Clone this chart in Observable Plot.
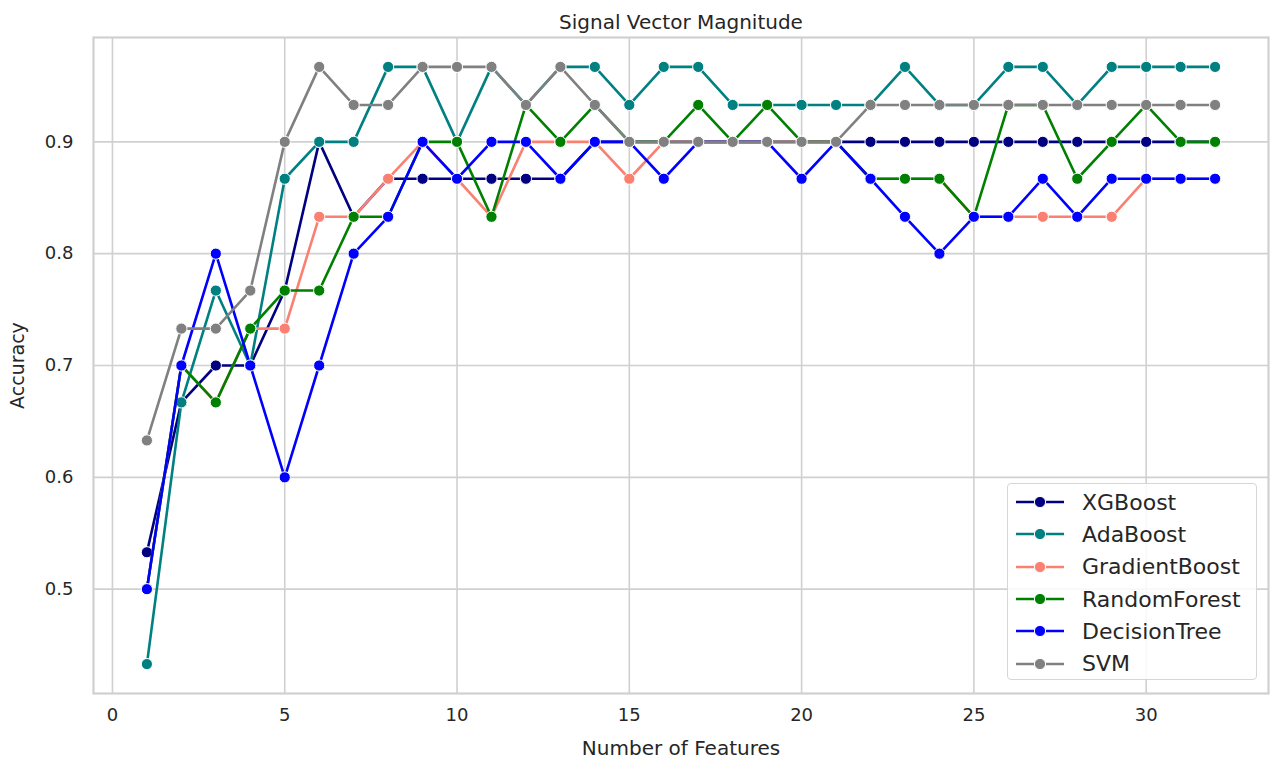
<!DOCTYPE html>
<html>
<head>
<meta charset="utf-8">
<script src="https://cdn.jsdelivr.net/npm/d3@7"></script>
<script src="https://cdn.jsdelivr.net/npm/@observablehq/plot@0.6"></script>
<style>
  html, body { margin: 0; padding: 0; background: #fff; }
  body { font-family: "DejaVu Sans", sans-serif; }
  #wrap { position: relative; width: 1271px; height: 763px; }
  #legend {
    position: absolute; left: 1007px; top: 483px; width: 250px; height: 197px;
    border: 1.5px solid #d6d6d6; border-radius: 4px; background: rgba(255,255,255,0.85);
    box-sizing: border-box; padding-top: 2px;
  }
  .row { display: flex; align-items: center; height: 32.3px; }
  .row svg { margin-left: 7px; margin-right: 17px; }
  .row span { font-size: 22px; color: #262626; }
</style>
</head>
<body>
<div id="wrap"></div>
<script>
const features = [1,2,3,4,5,6,7,8,9,10,11,12,13,14,15,16,17,18,19,20,21,22,23,24,25,26,27,28,29,30,31,32];
const models = ["XGBoost","AdaBoost","GradientBoost","RandomForest","DecisionTree","SVM"];
const colors = ["#000080","#008080","#fa8072","#008000","#0000ff","#808080"];

const xgboost       = [0.533,0.667,0.700,0.700,0.767,0.900,0.833,0.867,0.867,0.867,0.867,0.867,0.867,0.900,0.900,0.900,0.900,0.900,0.900,0.900,0.900,0.900,0.900,0.900,0.900,0.900,0.900,0.900,0.900,0.900,0.900,0.900];
const adaboost      = [0.433,0.667,0.767,0.700,0.867,0.900,0.900,0.967,0.967,0.900,0.967,0.933,0.967,0.967,0.933,0.967,0.967,0.933,0.933,0.933,0.933,0.933,0.967,0.933,0.933,0.967,0.967,0.933,0.967,0.967,0.967,0.967];
const gradientboost = [0.500,0.700,0.667,0.733,0.733,0.833,0.833,0.867,0.900,0.867,0.833,0.900,0.900,0.900,0.867,0.900,0.900,0.900,0.900,0.900,0.900,0.867,0.867,0.867,0.833,0.833,0.833,0.833,0.833,0.867,0.867,0.867];
const randomforest  = [0.500,0.700,0.667,0.733,0.767,0.767,0.833,0.833,0.900,0.900,0.833,0.933,0.900,0.933,0.900,0.900,0.933,0.900,0.933,0.900,0.900,0.867,0.867,0.867,0.833,0.933,0.933,0.867,0.900,0.933,0.900,0.900];
const decisiontree  = [0.500,0.700,0.800,0.700,0.600,0.700,0.800,0.833,0.900,0.867,0.900,0.900,0.867,0.900,0.900,0.867,0.900,0.900,0.900,0.867,0.900,0.867,0.833,0.800,0.833,0.833,0.867,0.833,0.867,0.867,0.867,0.867];
const svm           = [0.633,0.733,0.733,0.767,0.900,0.967,0.933,0.933,0.967,0.967,0.967,0.933,0.967,0.933,0.900,0.900,0.900,0.900,0.900,0.900,0.900,0.933,0.933,0.933,0.933,0.933,0.933,0.933,0.933,0.933,0.933,0.933];

const xTicks = [0,5,10,15,20,25,30];
const yTicks = [0.5,0.6,0.7,0.8,0.9];
const title = "Signal Vector Magnitude";
const xLabel = "Number of Features";
const yLabel = "Accuracy";

const seriesValues = [xgboost, adaboost, gradientboost, randomforest, decisiontree, svm];
const series = models.map((m, i) => features.map((f, j) => ({model: m, features: f, accuracy: seriesValues[i][j]})));

const ink = "#262626";
const marks = [
  Plot.gridX(xTicks, {stroke: "#d0d0d0", strokeOpacity: 1, strokeWidth: 1.6}),
  Plot.gridY(yTicks, {stroke: "#d0d0d0", strokeOpacity: 1, strokeWidth: 1.6}),
  Plot.frame({stroke: "#d0d0d0", strokeWidth: 2.2}),
  Plot.axisX(xTicks, {tickSize: 0, tickPadding: 15, fontSize: 18, fill: ink, label: null}),
  Plot.axisY(yTicks, {tickSize: 0, tickPadding: 20, fontSize: 18, fill: ink, label: null, tickFormat: d3.format(".1f")})
];
series.forEach((s, i) => {
  marks.push(Plot.line(s, {x: "features", y: "accuracy", stroke: colors[i], strokeWidth: 2.6}));
  marks.push(Plot.dot(s, {x: "features", y: "accuracy", fill: colors[i], stroke: "white", strokeWidth: 1, r: 5.6}));
});
marks.push(Plot.text([title], {frameAnchor: "top", textAnchor: "middle", dy: -23, fontSize: 20, fill: ink}));
marks.push(Plot.text([xLabel], {frameAnchor: "bottom", textAnchor: "middle", dy: 61, fontSize: 20, fill: ink}));
marks.push(Plot.text([yLabel], {frameAnchor: "left", textAnchor: "middle", dx: -76, rotate: -90, fontSize: 19, fill: ink}));

const chart = Plot.plot({
  width: 1271,
  height: 763,
  marginLeft: 93,
  marginRight: 3,
  marginTop: 37,
  marginBottom: 70,
  style: {fontFamily: "DejaVu Sans", background: "white", overflow: "visible"},
  x: {domain: [-0.55, 33.55], axis: null},
  y: {domain: [0.4067, 0.9933], axis: null},
  marks
});
const wrap = document.getElementById("wrap");
wrap.appendChild(chart);

const legend = document.createElement("div");
legend.id = "legend";
models.forEach((m, i) => {
  const row = document.createElement("div");
  row.className = "row";
  row.innerHTML = `<svg width="50" height="14"><line x1="1" x2="49" y1="7" y2="7" stroke="${colors[i]}" stroke-width="2.6"/><circle cx="25" cy="7" r="5.6" fill="${colors[i]}" stroke="white" stroke-width="1"/></svg><span>${m}</span>`;
  legend.appendChild(row);
});
wrap.appendChild(legend);
</script>
</body>
</html>
